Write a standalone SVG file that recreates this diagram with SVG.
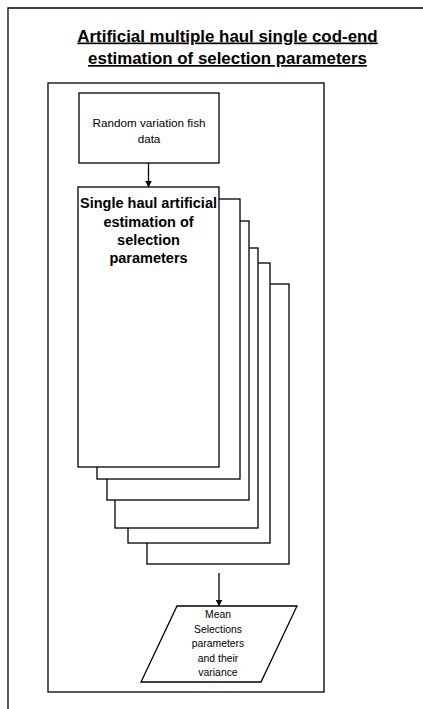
<svg xmlns="http://www.w3.org/2000/svg" width="423" height="709" viewBox="0 0 423 709">
  <style>
    .ln { fill: none; stroke: #000; stroke-width: 1.3; }
    .box { fill: #fff; stroke: #000; stroke-width: 1.3; }
    .title { font-family: "Liberation Sans", Arial, sans-serif; font-weight: bold; font-size: 16.9px; text-anchor: middle; text-decoration: underline; fill: #000; }
    .txt { font-family: "Liberation Sans", Arial, sans-serif; text-anchor: middle; fill: #000; }
    .bold { font-weight: bold; font-size: 14.5px; }
    .small { font-size: 10.4px; }
  </style>
  <defs>
    <marker id="arrow" markerWidth="7" markerHeight="7" refX="6" refY="3.5" orient="auto" markerUnits="userSpaceOnUse">
      <path d="M0,0 L7,3.5 L0,7 Z" fill="#000"/>
    </marker>
  </defs>
  <rect width="423" height="709" fill="#fff"/>

  <!-- page border (left and top edges only) -->
  <path class="ln" d="M8,709 V8 H423"/>

  <!-- title -->
  <g id="title">
    <text class="title" x="227.5" y="41.5">Artificial multiple haul single cod-end</text>
    <text class="title" x="227.5" y="64">estimation of selection parameters</text>
  </g>

  <!-- frame around the procedure -->
  <g id="frame">
    <rect class="box" x="48" y="83" width="276" height="609"/>
  </g>

  <g id="input">
    <rect class="box" x="79" y="93" width="140" height="70"/>
    <text class="txt" x="149" y="127" font-size="11.7">Random variation fish</text>
    <text class="txt" x="149" y="143" font-size="11.7">data</text>
  </g>

  <!-- repeated single-haul estimations, back to front -->
  <g id="haul-stack">
    <rect class="box" x="147" y="284" width="142" height="280"/>
    <rect class="box" x="128" y="263" width="142" height="280"/>
    <rect class="box" x="115" y="248" width="143" height="280"/>
    <rect class="box" x="107" y="221" width="142" height="279"/>
    <rect class="box" x="97" y="199" width="143" height="280"/>
  </g>

  <g id="single-haul">
    <rect class="box" x="78" y="187" width="141" height="280"/>
    <text class="txt bold" x="148.5" y="208">Single haul artificial</text>
    <text class="txt bold" x="148.5" y="227">estimation of</text>
    <text class="txt bold" x="148.5" y="245">selection</text>
    <text class="txt bold" x="148.5" y="263">parameters</text>
  </g>

  <g id="output">
    <polygon class="box" points="177,606 297,606 261,682 141,682"/>
    <text class="txt small" x="218" y="618">Mean</text>
    <text class="txt small" x="218" y="632.5">Selections</text>
    <text class="txt small" x="218" y="647">parameters</text>
    <text class="txt small" x="218" y="661.5">and their</text>
    <text class="txt small" x="218" y="676">variance</text>
  </g>

  <g id="connectors">
    <line class="ln" x1="148.5" y1="163" x2="148.5" y2="186.5" marker-end="url(#arrow)"/>
    <line class="ln" x1="219" y1="573" x2="219" y2="605.5" marker-end="url(#arrow)"/>
  </g>
</svg>
